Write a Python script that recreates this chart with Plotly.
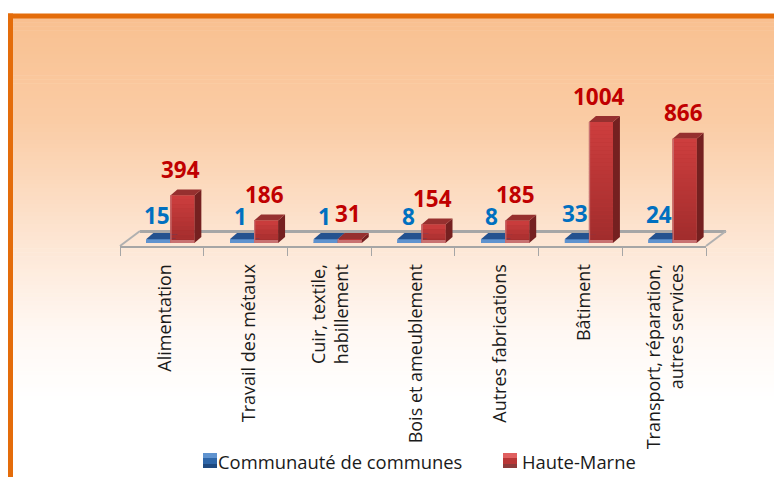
import plotly.graph_objects as go

categories = ["Alimentation", "Travail des métaux", "Cuir, textile,<br>habillement",
              "Bois et ameublement", "Autres fabrications", "Bâtiment",
              "Transport, réparation,<br>autres services"]
series_names = ["Communauté de communes", "Haute-Marne"]
communaute = [15, 1, 1, 8, 8, 33, 24]
haute_marne = [394, 186, 31, 154, 185, 1004, 866]

W, H = 774, 477
L, R, T, B = 120, 706, 60, 246
BASE_PX = 243
PX_PER_UNIT = 0.1205
cat_px = (R - L) / 7
BAR_W = 24 / cat_px
OFF = 8.5 / cat_px
DX = 7 / cat_px
DY = 6 / PX_PER_UNIT
BEVEL = 3 / PX_PER_UNIT
y_lo = -(B - BASE_PX) / PX_PER_UNIT
y_hi = (BASE_PX - T) / PX_PER_UNIT
FONT = "Open Sans"

def fx(px): return (px - L) / (R - L)
def fy(py): return (B - py) / (B - T)
def lerp(a, b, t): return tuple(a[i] + (b[i] - a[i]) * t for i in range(3))
def rgb(c): return "rgb(%d,%d,%d)" % tuple(round(v) for v in c)

shapes = []
def paper_rect(x0, y0, x1, y1, color):
    shapes.append(dict(type="rect", xref="paper", yref="paper", layer="below",
                       x0=fx(x0), x1=fx(x1), y0=fy(y0), y1=fy(y1),
                       fillcolor=color, line_width=0))

# panel gradient and frame
stops = [(14, (249, 192, 144)), (120, (250, 204, 165)), (240, (253, 230, 212)),
         (330, (255, 248, 243)), (400, (255, 255, 255)), (477, (255, 255, 255))]
for i in range(len(stops) - 1):
    (a, ca), (b, cb) = stops[i], stops[i + 1]
    n = max(1, (b - a) // 4)
    for k in range(n):
        paper_rect(8, a + (b - a) * k / n, W, a + (b - a) * (k + 1) / n + 0.5,
                   rgb(lerp(ca, cb, k / n)))
paper_rect(8, 13.5, W, 18.5, "#E46C0A")
paper_rect(8, 13.5, 13, H, "#E46C0A")

# floor of the 3D plot
def floor_line(x0, y0, x1, y1, color, w):
    shapes.append(dict(type="line", xref="paper", yref="paper", layer="below",
                       x0=fx(x0), x1=fx(x1), y0=fy(y0), y1=fy(y1),
                       line=dict(color=color, width=w)))
floor_line(140, 231.5, 726, 231.5, "#A6A6A6", 3)
floor_line(120, 246, 140, 231, "#B0B0B0", 2)
floor_line(706, 246, 726, 231, "#B0B0B0", 2)

def poly(pts, color):
    d = "M" + " L".join("%.4f,%.2f" % p for p in pts) + " Z"
    shapes.append(dict(type="path", xref="x", yref="y", layer="above", path=d,
                       fillcolor=color, line_width=0))

def rect(x0, x1, y0, y1, color):
    shapes.append(dict(type="rect", xref="x", yref="y", layer="above",
                       x0=x0, x1=x1, y0=y0, y1=y1, fillcolor=color, line_width=0))

def draw_bar(x0, val, side, top, c_hi, c_lo, edge):
    x1 = x0 + BAR_W
    v = max(val, BEVEL + 8)
    poly([(x1, 0), (x1 + DX, DY), (x1 + DX, v + DY), (x1, v)], side)
    poly([(x0, v), (x0 + DX, v + DY), (x1 + DX, v + DY), (x1, v)], top)
    n = max(1, int(v * PX_PER_UNIT / 4))
    for k in range(n):
        rect(x0, x1, v * k / n, v * (k + 1) / n, rgb(lerp(c_lo, c_hi, (k + 0.5) / n)))
    rect(x0, x1, 0, BEVEL, edge)
    rect(x0, x0 + 1.2 / cat_px, 0, v, edge)

centers = [i + 0.5 for i in range(len(categories))]
x_blue = [c + OFF - BAR_W for c in centers]
x_red = [c + OFF for c in centers]

for x, v in zip(x_blue, communaute):
    draw_bar(x, v, "#1F4A80", "#24528F", (70, 125, 190), (70, 125, 190), "#5F93CF")
for x, v in zip(x_red, haute_marne):
    draw_bar(x, v, "#752020", "#96302F", (206, 62, 62), (160, 44, 44), "#C87272")

fig = go.Figure()
for name, xs, vals, col in [(series_names[0], x_blue, communaute, "#3F75B5"),
                            (series_names[1], x_red, haute_marne, "#B83636")]:
    fig.add_bar(x=xs, y=vals, width=BAR_W, offset=0, name=name,
                marker=dict(color=col, line_width=0), showlegend=False)

annotations = []
for xs, vals, col in [(x_blue, communaute, "#0070C0"), (x_red, haute_marne, "#C00000")]:
    for x, v in zip(xs, vals):
        annotations.append(dict(x=x + BAR_W / 2 - 1.5 / cat_px, y=v, xref="x", yref="y",
                                text=str(v), showarrow=False, yanchor="middle", yshift=26,
                                font=dict(family=FONT, size=22.5, color=col, weight="bold")))

for name, px, c_top, c_mid, c_bot, tx in [
        (series_names[0], 203, "#5F93CF", "#2E66A8", "#1F4A80", 218),
        (series_names[1], 503, "#E06060", "#B83636", "#8C3A3A", 522)]:
    paper_rect(px, 453, px + 14, 458, c_top)
    paper_rect(px, 458, px + 14, 464, c_mid)
    paper_rect(px, 464, px + 14, 468, c_bot)
    annotations.append(dict(x=fx(tx), y=fy(461), xref="paper", yref="paper", text=name,
                            showarrow=False, xanchor="left", yanchor="middle", xshift=-2,
                            font=dict(family=FONT, size=18.4, color="#1a1a1a")))

label_nudge = [0.04 if "<br>" not in c else 0.015 for c in categories]

fig.update_layout(
    width=W, height=H, autosize=False,
    margin=dict(l=L, r=W - R, t=T, b=H - B, pad=0),
    paper_bgcolor="white", plot_bgcolor="rgba(0,0,0,0)",
    shapes=shapes, annotations=annotations, showlegend=False, barmode="overlay",
    font=dict(family=FONT, size=18, color="#1a1a1a"),
    xaxis=dict(range=[0, 7], tickmode="array",
               tickvals=[c + n for c, n in zip(centers, label_nudge)], ticktext=categories,
               tickangle=-90, ticks="", ticklabelstandoff=9,
               showline=True, linecolor="#A6A6A6", linewidth=2, showgrid=False, zeroline=False,
               tickfont=dict(family=FONT, size=18, color="#1a1a1a"),
               minor=dict(tickmode="array", tickvals=list(range(8)), ticks="outside",
                          ticklen=8, tickwidth=1, tickcolor="#A6A6A6", showgrid=False)),
    yaxis=dict(range=[y_lo, y_hi], visible=False, showgrid=False, zeroline=False),
)
fig.write_html("out.html", config={"displayModeBar": False},
               post_script="document.body.style.margin='0';document.documentElement.style.overflow='hidden';")
